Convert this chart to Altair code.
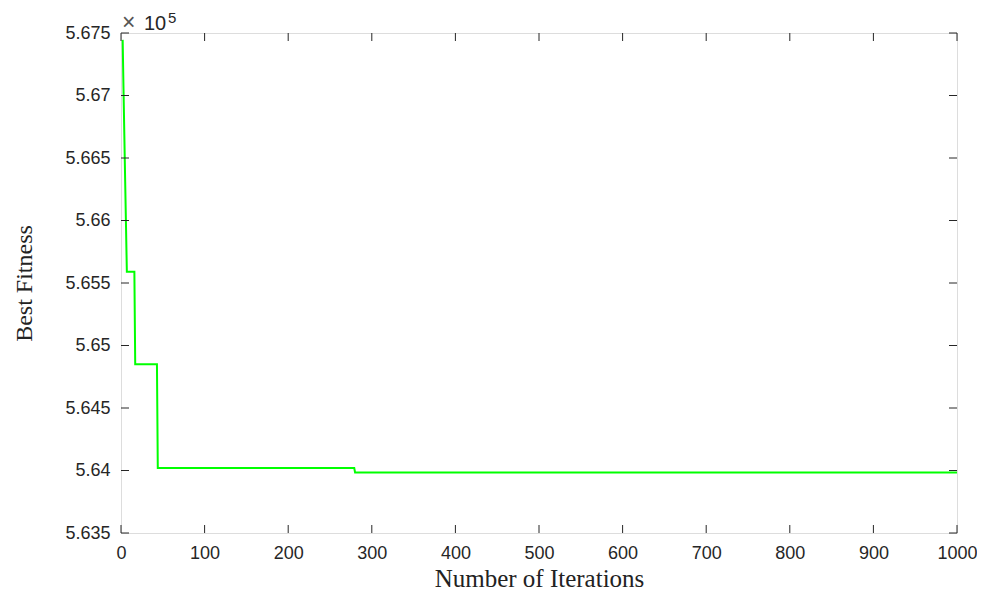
import altair as alt
import pandas as pd

# Data
iterations = [2, 3, 4, 5, 6, 7, 16, 17, 43, 44, 279, 280, 1000]
best_fitness = [567445, 567050, 566680, 566310, 565950, 565590, 565590, 564850,
                564850, 564020, 564020, 563985, 563985]

x_ticks = [0, 100, 200, 300, 400, 500, 600, 700, 800, 900, 1000]
y_ticks = [563500, 564000, 564500, 565000, 565500, 566000, 566500, 567000, 567500]

W, H = 836, 500
AXC = "#262626"

df = pd.DataFrame({"iter": iterations, "fit": best_fitness})
dx = pd.DataFrame({"t": x_ticks})
dy = pd.DataFrame({"t": y_ticks})

xs = alt.Scale(domain=[0, 1000], nice=False)
ys = alt.Scale(domain=[563500, 567500], nice=False, zero=False)

line = alt.Chart(df).mark_line(color="#00ff00", strokeWidth=2, clip=True).encode(
    x=alt.X("iter:Q", scale=xs,
            axis=alt.Axis(values=x_ticks, ticks=False, domain=False, grid=False,
                          format="d", labelFlush=False,
                          labelFont="Liberation Sans", labelFontSize=18,
                          labelColor=AXC, labelPadding=11,
                          title="Number of Iterations", titleFont="Liberation Serif",
                          titleFontSize=25, titleFontWeight="normal",
                          titleColor="#222222", titlePadding=4)),
    y=alt.Y("fit:Q", scale=ys,
            axis=alt.Axis(values=y_ticks, ticks=False, domain=False, grid=False,
                          labelExpr="format(datum.value/100000, '.4~f')",
                          labelFlush=False,
                          labelFont="Liberation Sans", labelFontSize=18,
                          labelColor=AXC, labelPadding=11,
                          title="Best Fitness", titleFont="Liberation Serif",
                          titleFontSize=24, titleFontWeight="normal",
                          titleColor="#222222", titlePadding=28)),
)

bt = alt.Chart(dx).mark_rule(color=AXC, strokeWidth=1).encode(
    x=alt.X("t:Q", scale=xs), y=alt.value(H), y2=alt.value(H - 8))
tt = alt.Chart(dx).mark_rule(color=AXC, strokeWidth=1).encode(
    x=alt.X("t:Q", scale=xs), y=alt.value(0), y2=alt.value(8))
lt = alt.Chart(dy).mark_rule(color=AXC, strokeWidth=1).encode(
    y=alt.Y("t:Q", scale=ys), x=alt.value(0), x2=alt.value(8))
rt = alt.Chart(dy).mark_rule(color=AXC, strokeWidth=1).encode(
    y=alt.Y("t:Q", scale=ys), x=alt.value(W), x2=alt.value(W - 8))

exp_x = alt.Chart(pd.DataFrame({"s": ["×"]})).mark_text(
    align="left", baseline="alphabetic", font="Liberation Sans", fontSize=23,
    color="#555555").encode(x=alt.value(1), y=alt.value(-3), text="s:N")
exp_base = alt.Chart(pd.DataFrame({"s": ["10"]})).mark_text(
    align="left", baseline="alphabetic", font="Liberation Sans", fontSize=20,
    color=AXC).encode(x=alt.value(23), y=alt.value(-3), text="s:N")
exp_pow = alt.Chart(pd.DataFrame({"s": ["5"]})).mark_text(
    align="left", baseline="alphabetic", font="Liberation Sans", fontSize=15,
    color=AXC).encode(x=alt.value(47), y=alt.value(-10), text="s:N")

chart = alt.layer(line, bt, tt, lt, rt, exp_x, exp_base, exp_pow).properties(
    width=W, height=H,
    autosize=alt.AutoSizeParams(type="none"),
    padding={"left": 113, "top": 25, "right": 20, "bottom": 59},
).configure_view(stroke=AXC, strokeWidth=1).configure(background="white")

chart.save("out.html", embed_options={"renderer": "svg", "actions": False})
